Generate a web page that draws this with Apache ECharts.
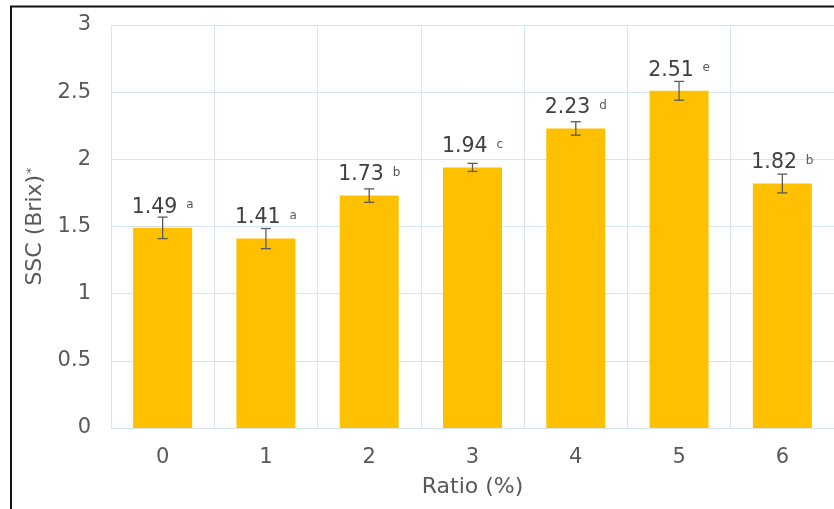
<!DOCTYPE html>
<html>
<head>
<meta charset="utf-8">
<script src="https://cdn.jsdelivr.net/npm/echarts@6/dist/echarts.min.js"></script>
<style>
  html, body { margin: 0; padding: 0; background: #fff; }
  #chart { width: 834px; height: 509px; }
</style>
</head>
<body>
<div id="chart"></div>
<script>
// SSC by ratio, with standard-error bars and significance letters
const ratios = ['0', '1', '2', '3', '4', '5', '6'];
const sscMean = [1.49, 1.41, 1.73, 1.94, 2.23, 2.51, 1.82];
const sscErr = [0.08, 0.075, 0.05, 0.03, 0.05, 0.07, 0.07];
const groupLetters = ['a', 'a', 'b', 'c', 'd', 'e', 'b'];
const yTicks = { min: 0, max: 3, step: 0.5 };

const FONT = 'DejaVu Sans';
const gridColor = '#d6e3f1';
const textColor = '#595959';

const chart = echarts.init(document.getElementById('chart'), null, { renderer: 'canvas' });

const option = {
  animation: false,
  backgroundColor: '#fff',
  textStyle: { fontFamily: FONT },
  grid: { left: 111, top: 25, right: -6, bottom: 81, containLabel: false },
  xAxis: {
    type: 'category',
    data: ratios,
    name: 'Ratio (%)',
    nameLocation: 'middle',
    nameGap: 48,
    nameTextStyle: { fontFamily: FONT, fontSize: 22, color: textColor },
    axisLine: { show: true, lineStyle: { color: gridColor, width: 1 } },
    axisTick: { show: false },
    axisLabel: { fontFamily: FONT, fontSize: 21, color: textColor, margin: 19 },
    splitLine: { show: true, lineStyle: { color: gridColor, width: 1 } }
  },
  yAxis: {
    type: 'value',
    min: yTicks.min,
    max: yTicks.max,
    interval: yTicks.step,
    name: '{n|SSC (Brix)}{s|*}',
    nameLocation: 'middle',
    nameGap: 60,
    nameRotate: 90,
    nameTextStyle: {
      fontFamily: FONT,
      color: textColor,
      rich: {
        n: { fontFamily: FONT, fontSize: 22, color: textColor },
        s: { fontFamily: FONT, fontSize: 13, color: textColor, verticalAlign: 'top', padding: [0, 0, 0, 1] }
      }
    },
    axisLine: { show: false },
    axisTick: { show: false },
    axisLabel: { fontFamily: FONT, fontSize: 21, color: textColor, margin: 20 },
    splitLine: { show: true, lineStyle: { color: gridColor, width: 1 } }
  },
  series: [
    {
      type: 'bar',
      data: sscMean,
      barWidth: 59,
      itemStyle: { color: '#FFC000' },
      label: {
        show: true,
        position: 'top',
        distance: 10,
        formatter: (p) => '{v|' + p.value.toFixed(2) + '} {s|' + groupLetters[p.dataIndex] + '}',
        rich: {
          v: { fontFamily: FONT, fontSize: 20.5, color: '#404040' },
          s: { fontFamily: FONT, fontSize: 12, color: '#595959', verticalAlign: 'middle', padding: [0, 0, 4, 5] }
        }
      },
      z: 2
    },
    {
      type: 'custom',
      data: sscMean.map((m, i) => [i, m, sscErr[i]]),
      renderItem: (params, api) => {
        const x = api.value(0);
        const m = api.value(1);
        const e = api.value(2);
        const hi = api.coord([x, m + e]);
        const lo = api.coord([x, m - e]);
        const cap = 5;
        const style = { stroke: '#5a5a5a', lineWidth: 1.3 };
        return {
          type: 'group',
          children: [
            { type: 'line', shape: { x1: hi[0], y1: hi[1], x2: lo[0], y2: lo[1] }, style },
            { type: 'line', shape: { x1: hi[0] - cap, y1: hi[1], x2: hi[0] + cap, y2: hi[1] }, style },
            { type: 'line', shape: { x1: lo[0] - cap, y1: lo[1], x2: lo[0] + cap, y2: lo[1] }, style }
          ]
        };
      },
      z: 3
    }
  ],
  graphic: [
    {
      type: 'polyline',
      shape: { points: [[11, 509], [11, 6.5], [834, 6.5]] },
      style: { stroke: '#111', lineWidth: 2, fill: null },
      silent: true
    }
  ]
};

chart.setOption(option);
</script>
</body>
</html>
